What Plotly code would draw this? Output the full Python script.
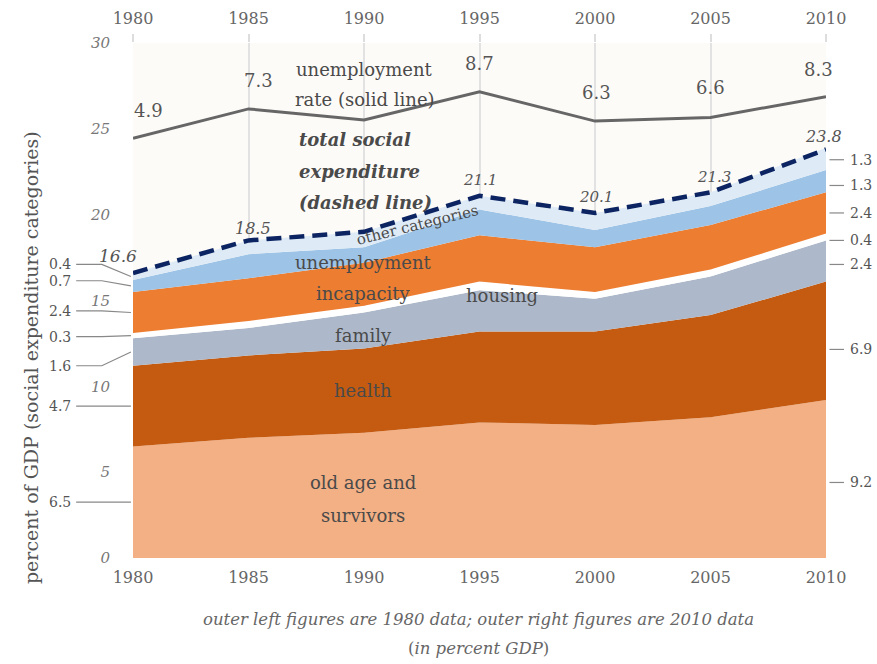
import plotly.graph_objects as go

# ---- data (percent of GDP) ----
years = [1980, 1985, 1990, 1995, 2000, 2005, 2010]

old_age = [6.5, 7.0, 7.3, 7.9, 7.75, 8.2, 9.2]
health = [4.7, 4.8, 4.9, 5.3, 5.45, 5.95, 6.9]
family = [1.6, 1.6, 2.1, 2.4, 1.9, 2.25, 2.4]
housing = [0.3, 0.4, 0.4, 0.5, 0.4, 0.4, 0.4]
incapacity = [2.4, 2.5, 2.5, 2.7, 2.6, 2.6, 2.4]
unemployment_exp = [0.7, 1.4, 0.9, 1.5, 1.0, 1.1, 1.3]
other = [0.4, 0.8, 0.9, 0.8, 1.0, 0.8, 1.3]

total_expenditure = [16.6, 18.5, 19.0, 21.1, 20.1, 21.3, 23.8]
total_labels = ["16.6", "18.5", None, "21.1", "20.1", "21.3", "23.8"]

unemployment_rate = [4.9, 7.3, 6.4, 8.7, 6.3, 6.6, 8.3]
rate_labels = ["4.9", "7.3", None, "8.7", "6.3", "6.6", "8.3"]

edge_labels_left = ["6.5", "4.7", "1.6", "0.3", "2.4", "0.7", "0.4"]
edge_labels_right = ["9.2", "6.9", "2.4", "0.4", "2.4", "1.3", "1.3"]

y_ticks = [0, 5, 10, 15, 20, 25, 30]

# ---- styling ----
FONT = "DejaVu Serif"
TXT = "#4a4a4a"
layers = [
    ("old age and survivors", old_age, "#f3b084"),
    ("health", health, "#c55a11"),
    ("family", family, "#adb9ca"),
    ("housing", housing, "#ffffff"),
    ("incapacity", incapacity, "#ed7d31"),
    ("unemployment", unemployment_exp, "#9dc3e6"),
    ("other categories", other, "#deebf7"),
]

fig = go.Figure()

for name, vals, col in layers:
    fig.add_trace(go.Scatter(
        x=years, y=vals, name=name, stackgroup="exp", mode="none",
        fillcolor=col, hoverinfo="skip", showlegend=False,
    ))

fig.add_trace(go.Scatter(
    x=years, y=total_expenditure, mode="lines", showlegend=False,
    line=dict(color="#0c2461", width=4.5, dash="15px,8px"), hoverinfo="skip",
))

fig.add_trace(go.Scatter(
    x=years, y=unemployment_rate, mode="lines", showlegend=False,
    xaxis="x2", yaxis="y2",
    line=dict(color="#666666", width=3), hoverinfo="skip",
))

ann = []

# value labels on the unemployment line
rate_shift = [(15, 28), (10, 28), (0, 0), (0, 28), (1, 29), (0, 30), (-8, 27)]
for yr, v, lab, (dx, dy) in zip(years, unemployment_rate, rate_labels, rate_shift):
    if lab is None:
        continue
    ann.append(dict(x=yr, y=v, xref="x", yref="y2", text=lab, showarrow=False,
                    xshift=dx, yshift=dy, font=dict(family=FONT, size=18, color="#555")))

# value labels on the total expenditure line
tot_shift = [(-15, 17), (4, 12), (0, 0), (0, 16), (1, 16), (3, 15), (-3, 13)]
tot_size = [17, 16, 0, 15, 15, 15, 16]
for yr, v, lab, (dx, dy), sz in zip(years, total_expenditure, total_labels, tot_shift, tot_size):
    if lab is None:
        continue
    ann.append(dict(x=yr, y=v, xref="x", yref="y", text="<i>%s</i>" % lab, showarrow=False,
                    xshift=dx, yshift=dy, font=dict(family=FONT, size=sz, color="#555")))

# layer names inside the areas
def txt(s, x, y, size=18, anchor="center", angle=0):
    ann.append(dict(x=x, y=y, xref="x", yref="y", text=s, showarrow=False,
                    xanchor=anchor, textangle=angle,
                    font=dict(family=FONT, size=size, color=TXT)))

txt("unemployment", 1990.04, 28.43)
txt("rate (solid line)", 1990.04, 26.68)
txt("<b><i>total social</i></b>", 1987.1, 24.35, anchor="left")
txt("<b><i>expenditure</i></b>", 1987.1, 22.54, anchor="left")
txt("<b><i>(dashed line)</i></b>", 1987.1, 20.68, anchor="left")
txt("other categories", 1992.3, 19.4, size=15, angle=-14)
txt("unemployment", 1989.96, 17.24)
txt("incapacity", 1989.96, 15.38)
txt("housing", 1995.97, 15.32)
txt("family", 1989.96, 12.99)
txt("health", 1989.96, 9.73)
txt("old age and", 1989.96, 4.37)
txt("survivors", 1989.96, 2.50)

# edge figures with leader lines (1980 on the left, 2010 on the right)
shapes = []
def mids(idx):
    out, base = [], 0.0
    for _, vals, _ in layers:
        out.append(base + vals[idx] / 2)
        base += vals[idx]
    return out

left_nudge = [0, 0, -0.8, -0.05, 0.1, 0.3, 0.7]
for m, lab, nd in zip(mids(0), edge_labels_left, left_nudge):
    ly = m + nd
    shapes.append(dict(type="path", xref="paper", yref="y",
                       path="M -0.082,%g L -0.045,%g L -0.003,%g" % (ly, ly, m),
                       line=dict(color="#888", width=1.2)))
    ann.append(dict(x=-0.086, y=ly, xref="paper", yref="y", text=lab, showarrow=False,
                    xanchor="right", font=dict(family=FONT, size=14, color="#555")))

right_nudge = [-0.2, -0.5, -0.2, -0.2, 0, -0.25, -0.05]
for m, lab, nd in zip(mids(-1), edge_labels_right, right_nudge):
    ly = m + nd
    shapes.append(dict(type="line", xref="paper", yref="y", x0=1.005, x1=1.026, y0=ly, y1=ly,
                       line=dict(color="#888", width=1.2)))
    ann.append(dict(x=1.032, y=ly, xref="paper", yref="y", text=lab, showarrow=False,
                    xanchor="left", font=dict(family=FONT, size=14, color="#555")))

# axis title and caption
ann.append(dict(x=-0.166, y=0.39, xref="paper", yref="paper", textangle=-90, showarrow=False,
                text="percent of GDP (social expenditure categories)",
                font=dict(family=FONT, size=19, color="#555")))
ann.append(dict(x=0.498, y=-0.12, xref="paper", yref="paper", yanchor="middle", showarrow=False,
                text="<i>outer left figures are 1980 data; outer right figures are 2010 data</i>",
                font=dict(family=FONT, size=16.5, color="#666")))
ann.append(dict(x=0.498, y=-0.175, xref="paper", yref="paper", yanchor="middle", showarrow=False,
                text="(<i>in percent GDP</i>)",
                font=dict(family=FONT, size=16.5, color="#666")))

year_font = dict(family=FONT, size=16, color="#666")
fig.update_layout(
    width=877, height=664,
    margin=dict(l=133, r=51, t=43, b=106, autoexpand=False),
    paper_bgcolor="white", plot_bgcolor="#fdfbf8",
    showlegend=False,
    xaxis=dict(range=[1980, 2010], tickvals=years, ticktext=[str(y) for y in years],
               showgrid=True, gridcolor="#e2e2e2", gridwidth=1.5, zeroline=False,
               showline=False, ticks="", ticklabelstandoff=8, tickfont=year_font,
               automargin=False),
    xaxis2=dict(overlaying="x", matches="x", side="top", tickvals=years,
                ticktext=[str(y) for y in years], showgrid=False, zeroline=False,
                ticks="outside", ticklen=8, tickcolor="#dddddd", tickwidth=1.5,
                ticklabelstandoff=4, tickfont=year_font, automargin=False),
    yaxis=dict(range=[0, 30], tickvals=y_ticks, showgrid=False, zeroline=False,
               showline=False, ticks="", ticklabelstandoff=22, automargin=False,
               tickfont=dict(family=FONT, size=15, color="#777", style="italic")),
    yaxis2=dict(overlaying="y", range=[-29.5, 12.7], visible=False),
    annotations=ann,
    shapes=shapes,
)

fig.write_html("out.html")
